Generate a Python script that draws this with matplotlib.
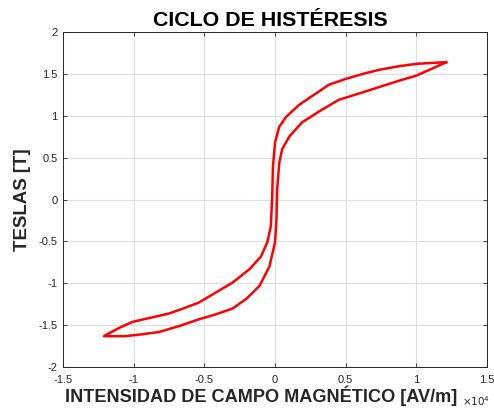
import numpy as np
import matplotlib
matplotlib.use('Agg')
import matplotlib.pyplot as plt

plt.rcParams['font.family'] = ['Liberation Sans', 'DejaVu Sans']

# Rama descendente (de +Hmax a -Hmax), H en unidades de 1e4 A/m
h_desc = [1.21, 1.10, 1.00, 0.87, 0.74, 0.62, 0.50, 0.38, 0.31, 0.24, 0.17, 0.08, 0.03,
          0.00, -0.015, -0.02, -0.03, -0.055, -0.10, -0.18, -0.30, -0.42, -0.54,
          -0.65, -0.75, -0.88, -1.01, -1.10, -1.18, -1.21]
b_desc = [1.64, 1.63, 1.62, 1.59, 1.55, 1.50, 1.44, 1.37, 1.29, 1.21, 1.13, 0.99, 0.87,
          0.68, 0.39, 0.04, -0.32, -0.51, -0.68, -0.83, -0.99, -1.11, -1.23,
          -1.30, -1.36, -1.41, -1.46, -1.53, -1.60, -1.63]

# Rama ascendente (de -Hmax a +Hmax)
h_asc = [-1.21, -1.06, -0.95, -0.82, -0.68, -0.54, -0.42, -0.30, -0.20, -0.11, -0.04,
         0.00, 0.01, 0.015, 0.03, 0.05, 0.10, 0.19, 0.31, 0.45, 0.62, 0.75, 0.88,
         1.00, 1.08, 1.16, 1.21]
b_asc = [-1.63, -1.63, -1.61, -1.58, -1.51, -1.43, -1.37, -1.30, -1.18, -1.03, -0.80,
         -0.51, -0.24, 0.12, 0.44, 0.60, 0.75, 0.92, 1.05, 1.19, 1.28, 1.35, 1.42,
         1.48, 1.54, 1.60, 1.64]

x_ticks = [-1.5, -1, -0.5, 0, 0.5, 1, 1.5]
x_tick_labels = ['-1.5', '-1', '-0.5', '0', '0.5', '1', '1.5']
y_ticks = [-2, -1.5, -1, -0.5, 0, 0.5, 1, 1.5, 2]
y_tick_labels = ['-2', '-1.5', '-1', '-0.5', '0', '0.5', '1', '1.5', '2']

fig = plt.figure(figsize=(4.94, 4.13), dpi=100)
ax = fig.add_axes([0.1275, 0.111, 0.8585, 0.8115])

h = np.concatenate([h_desc, h_asc])
b = np.concatenate([b_desc, b_asc])
ax.plot(h, b, color='#ff0000', linewidth=1.8, solid_joinstyle='round')

ax.set_xlim(-1.5, 1.5)
ax.set_ylim(-2, 2)
ax.set_xticks(x_ticks)
ax.set_xticklabels(x_tick_labels)
ax.set_yticks(y_ticks)
ax.set_yticklabels(y_tick_labels)

ax.grid(True, color='#dfdfdf', linewidth=0.8)
ax.set_axisbelow(True)
ax.tick_params(direction='in', top=True, right=True, length=3, width=0.6,
               labelsize=8, colors='#262626')
ax.tick_params(axis='x', pad=6)
ax.tick_params(axis='y', pad=4)
for s in ax.spines.values():
    s.set_color('#262626')
    s.set_linewidth(0.7)

ax.set_title('CICLO DE HISTÉRESIS', fontsize=15.4, fontweight='bold', pad=4, x=0.49)
ax.set_xlabel('INTENSIDAD DE CAMPO MAGNÉTICO [AV/m]', fontsize=13.1,
              fontweight='bold', color='#262626', labelpad=0)
ax.xaxis.set_label_coords(0.468, -0.055, transform=ax.transAxes)
ax.xaxis.label.set_va('top')
ax.set_ylabel('TESLAS [T]', fontsize=13.4, fontweight='bold', color='#262626', labelpad=5)
fig.text(0.936, 0.016, r'$\times10^{4}$', fontsize=7.5, color='#262626',
         ha='left', va='baseline')

fig.savefig('out.png', dpi=100)
